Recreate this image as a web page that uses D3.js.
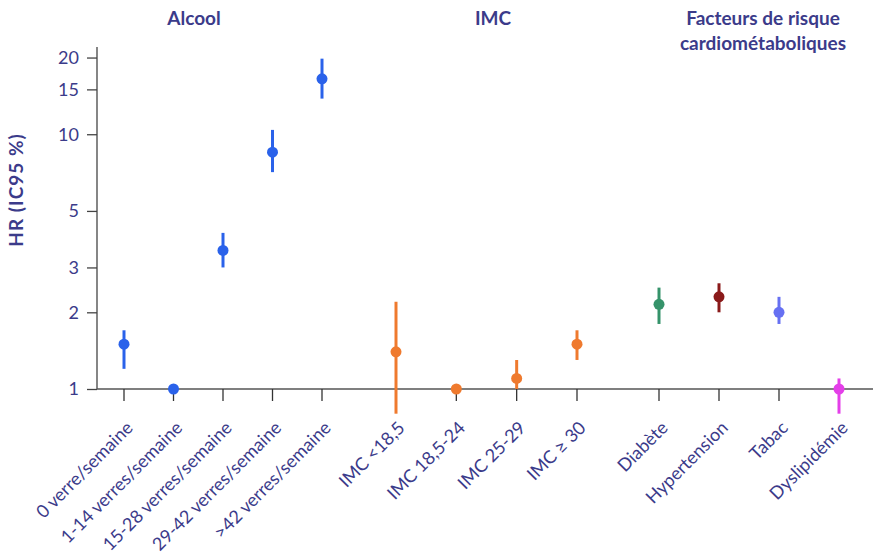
<!DOCTYPE html>
<html>
<head>
<meta charset="utf-8">
<script src="https://cdn.jsdelivr.net/npm/d3@7"></script>
<style>
  body { margin: 0; background: #fff; }
  text { font-family: Lato, "Open Sans", sans-serif; fill: #3b3b8a; }
</style>
</head>
<body>
<div id="chart"></div>
<script>
// data (HR with 95% CI, log scale)
var alcoolLabels = ["0 verre/semaine", "1-14 verres/semaine", "15-28 verres/semaine", "29-42  verres/semaine", ">42 verres/semaine"];
var alcoolHR = [1.5, 1.0, 3.5, 8.5, 16.5];
var alcoolLo = [1.2, null, 3.0, 7.1, 13.8];
var alcoolHi = [1.7, null, 4.1, 10.4, 19.8];

var imcLabels = ["IMC <18,5", "IMC 18,5-24", "IMC 25-29", "IMC ≥ 30"];
var imcHR = [1.4, 1.0, 1.1, 1.5];
var imcLo = [0.8, null, 1.0, 1.3];
var imcHi = [2.2, null, 1.3, 1.7];

var rfLabels = ["Diabète", "Hypertension", "Tabac", "Dyslipidémie"];
var rfHR = [2.15, 2.3, 2.0, 1.0];
var rfLo = [1.8, 2.0, 1.8, 0.8];
var rfHi = [2.5, 2.6, 2.3, 1.1];

var yTicks = [1, 2, 3, 5, 10, 15, 20];

var width = 873, height = 558;
var x0 = 97, yBase = 389;

var svg = d3.select("#chart")
  .append("svg")
    .attr("width", width)
    .attr("height", height);

// log y scale
var y = d3.scaleLog()
  .domain([1, 22])
  .range([yBase, 47]);

// one point scale per group
var groups = [
  {title: ["Alcool"], titleX: 194, labels: alcoolLabels, hr: alcoolHR, lo: alcoolLo, hi: alcoolHi,
   colors: alcoolLabels.map(() => "#2a62ea"), range: [124, 322]},
  {title: ["IMC"], titleX: 493, labels: imcLabels, hr: imcHR, lo: imcLo, hi: imcHi,
   colors: imcLabels.map(() => "#ef7a2e"), range: [396, 577]},
  {title: ["Facteurs de risque", "cardiométaboliques"], titleX: 763, labels: rfLabels, hr: rfHR, lo: rfLo, hi: rfHi,
   colors: ["#35936a", "#8a1a1a", "#6670f2", "#e43fe9"], range: [659, 839]}
];

// Y axis
var yAxis = svg.append("g")
  .attr("transform", "translate(" + x0 + ",0)")
  .call(d3.axisLeft(y).tickValues(yTicks).tickFormat(d3.format("d")).tickSize(10).tickPadding(8));
yAxis.select(".domain").attr("stroke", "#444").attr("stroke-width", 1.3)
  .attr("d", "M0," + y.range()[1] + "V" + yBase);
yAxis.selectAll(".tick line").attr("stroke", "#444").attr("stroke-width", 1.3);
yAxis.selectAll(".tick text").style("font-size", "18px").attr("fill", "#3b3b8a");

// X axis line
svg.append("line")
  .attr("x1", x0).attr("x2", width)
  .attr("y1", yBase).attr("y2", yBase)
  .attr("stroke", "#555").attr("stroke-width", 1.6);

// Y axis label
svg.append("text")
  .attr("transform", "translate(23,190) rotate(-90)")
  .attr("text-anchor", "middle")
  .style("font-size", "19px")
  .style("font-weight", "bold")
  .style("letter-spacing", "1px")
  .text("HR (IC95 %)");

groups.forEach(function(g) {
  var x = d3.scalePoint().domain(g.labels).range(g.range);
  var rows = g.labels.map(function(l, i) {
    return {label: l, hr: g.hr[i], lo: g.lo[i], hi: g.hi[i], color: g.colors[i]};
  });

  // ticks
  svg.append("g").selectAll("line")
    .data(rows).enter().append("line")
      .attr("x1", d => x(d.label)).attr("x2", d => x(d.label))
      .attr("y1", yBase).attr("y2", yBase + 12)
      .attr("stroke", "#333").attr("stroke-width", 1.3);

  // category labels
  svg.append("g").selectAll("text")
    .data(rows).enter().append("text")
      .attr("transform", d => "translate(" + (x(d.label) + 10) + "," + (yBase + 40) + ") rotate(-45)")
      .attr("text-anchor", "end")
      .style("font-size", "18px")
      .text(d => d.label);

  // confidence intervals
  svg.append("g").selectAll("line")
    .data(rows.filter(d => d.lo != null)).enter().append("line")
      .attr("x1", d => x(d.label)).attr("x2", d => x(d.label))
      .attr("y1", d => y(d.lo)).attr("y2", d => y(d.hi))
      .attr("stroke", d => d.color).attr("stroke-width", 3);

  // point estimates
  svg.append("g").selectAll("circle")
    .data(rows).enter().append("circle")
      .attr("cx", d => x(d.label)).attr("cy", d => y(d.hr))
      .attr("r", 5.5)
      .attr("fill", d => d.color);

  // group title
  svg.append("text")
    .attr("x", g.titleX)
    .attr("y", 25)
    .attr("text-anchor", "middle")
    .style("font-size", "19px")
    .style("font-weight", "bold")
    .selectAll("tspan")
    .data(g.title).enter().append("tspan")
      .attr("x", g.titleX)
      .attr("dy", (d, i) => i === 0 ? 0 : "1.3em")
      .text(d => d);
});
</script>
</body>
</html>
